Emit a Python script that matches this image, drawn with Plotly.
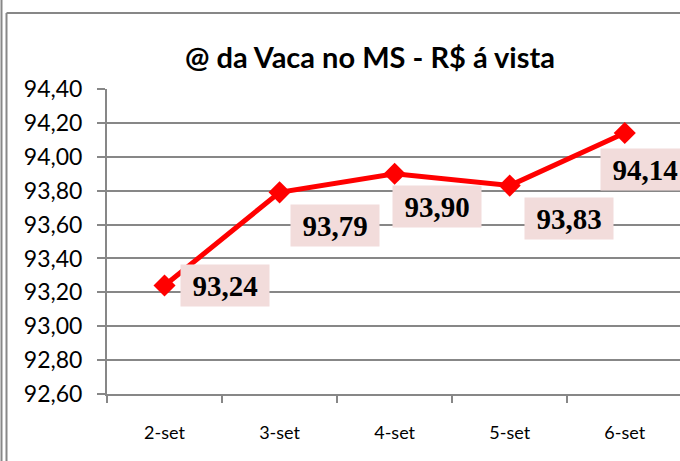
import plotly.graph_objects as go

categories = ["2-set", "3-set", "4-set", "5-set", "6-set"]
values = [93.24, 93.79, 93.90, 93.83, 94.14]
title_text = "@ da Vaca no MS - R$ á vista"

# label offsets (pixels) relative to each point
label_dx = [60, 55, 42, 59, 20]
label_dy = [0, -33, -33, -33, -36]

W, H = 680, 461
ML, MR, MT, MB = 107, 0, 89, 67
PW = W - ML - MR
PH = H - MT - MB

def px_x(px):
    return (px - ML) / PW

def px_y(py):
    return (H - MB - py) / PH

fig = go.Figure()
fig.add_trace(go.Scatter(
    x=categories, y=values, mode="lines+markers",
    line=dict(color="#FF0000", width=5),
    marker=dict(symbol="diamond", size=17, color="#FF0000"),
    cliponaxis=False, showlegend=False, hoverinfo="skip",
))

for c, v, dx, dy in zip(categories, values, label_dx, label_dy):
    fig.add_annotation(
        x=c, y=v, xref="x", yref="y",
        text="<b>" + f"{v:.2f}".replace(".", ",") + "</b>",
        showarrow=False, xshift=dx, yshift=dy,
        bgcolor="#F2DCDB", width=86, height=39,
        font=dict(family="Liberation Serif", size=29, color="#000000"),
    )

gray = "#878787"
fig.add_shape(type="line", xref="paper", yref="paper",
              x0=px_x(6.5), x1=px_x(690), y0=px_y(13), y1=px_y(13),
              line=dict(color=gray, width=2))
fig.add_shape(type="line", xref="paper", yref="paper",
              x0=px_x(6.5), x1=px_x(6.5), y0=px_y(13), y1=px_y(470),
              line=dict(color=gray, width=2))
fig.add_shape(type="line", xref="paper", yref="paper",
              x0=px_x(1.5), x1=px_x(1.5), y0=px_y(0), y1=px_y(470),
              line=dict(color=gray, width=2))

fig.update_layout(
    width=W, height=H,
    margin=dict(l=ML, r=MR, t=MT, b=MB, autoexpand=False),
    paper_bgcolor="white", plot_bgcolor="white",
    separators=",.",
    title=dict(text="<b>" + title_text + "</b>", x=370 / W, xref="container",
               y=1 - 58 / H, yref="container", xanchor="center", yanchor="middle",
               font=dict(family="Lato", size=29, color="#000000")),
    xaxis=dict(
        type="category", range=[-0.5, 4.48], tickson="boundaries",
        showline=True, linecolor=gray, linewidth=2,
        ticks="outside", ticklen=7, tickcolor=gray, tickwidth=2,
        showgrid=False, tickfont=dict(family="Lato", size=18, color="#000000"),
        ticklabelstandoff=21, automargin=False,
    ),
    yaxis=dict(
        range=[92.6, 94.4], dtick=0.2, tick0=92.6, tickformat=".2f",
        showline=True, linecolor=gray, linewidth=2,
        ticks="outside", ticklen=8, tickcolor=gray, tickwidth=2,
        showgrid=True, gridcolor=gray, gridwidth=2, zeroline=False,
        tickfont=dict(family="Lato", size=23, color="#000000"),
        ticklabelstandoff=10, automargin=False,
    ),
)

fig.write_html("out.html", config={"displayModeBar": False},
               post_script="document.body.style.margin='0';document.body.style.overflow='hidden';")
